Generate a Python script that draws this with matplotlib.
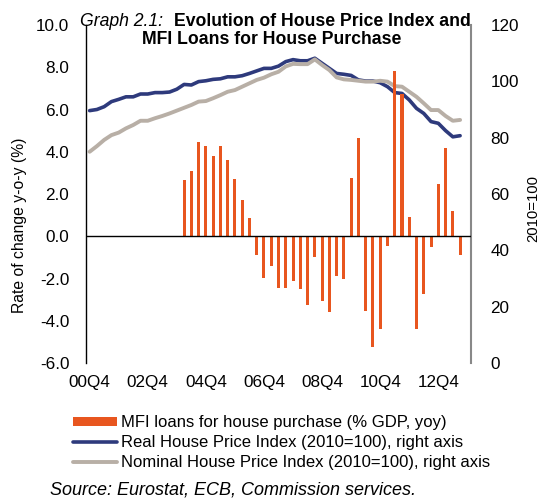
import matplotlib
matplotlib.use("Agg")
import matplotlib.pyplot as plt
import numpy as np

plt.rcParams['font.family'] = ['Liberation Sans', 'DejaVu Sans']

# quarters 00Q4 .. 13Q4 (last slot empty)
quarters = ['%02dQ%d' % ((2000 + (i + 3) // 4) % 100, (i + 3) % 4 + 1) for i in range(53)]
tick_pos = [0, 8, 16, 24, 32, 40, 48]

# MFI loans for house purchase (% GDP, yoy), 00Q4 .. 13Q3
loans = [0, 0, 0, 0, 0, 0, 0, 0, 0, 0, 0, 0, 0,
         2.64, 3.08, 4.45, 4.25, 3.82, 4.25, 3.63, 2.70, 1.71, 0.88,
         -0.88, -1.97, -1.43, -2.45, -2.45, -2.14, -2.52, -3.27,
         -0.96, -3.05, -3.60, -1.87, -2.00, 2.77, 4.67,
         -3.55, -5.25, -4.39, -0.47, 7.83, 6.73, 0.91,
         -4.39, -2.75, -0.50, 2.48, 4.18, 1.18, -0.91]

# Real House Price Index (2010=100)
real_hpi = [89.6, 90.0, 91.0, 92.8, 93.6, 94.5, 94.5, 95.5, 95.5, 96.0,
            96.0, 96.2, 97.2, 98.9, 98.7, 99.9, 100.2, 100.7, 100.9, 101.6,
            101.6, 102.0, 102.8, 103.7, 104.6, 104.6, 105.4, 107.0, 107.7, 107.3,
            107.3, 108.2, 106.4, 104.6, 102.8, 102.5, 102.1, 100.5, 100.1, 100.1,
            99.5, 98.1, 96.0, 95.7, 93.4, 90.4, 88.6, 85.7, 85.1, 82.5,
            80.3, 80.7]

# Nominal House Price Index (2010=100)
nominal_hpi = [75.0, 77.0, 79.2, 80.9, 81.8, 83.3, 84.5, 86.0, 86.0, 86.9,
               87.7, 88.6, 89.6, 90.6, 91.6, 92.8, 93.0, 94.0, 95.1, 96.3,
               96.9, 98.1, 99.3, 100.5, 101.3, 102.5, 103.4, 105.3, 106.2, 106.1,
               106.1, 107.8, 105.8, 104.0, 101.4, 100.7, 100.5, 100.2, 99.9, 99.9,
               100.2, 99.9, 98.3, 98.1, 96.3, 94.5, 92.2, 89.8, 89.8, 87.7,
               86.0, 86.3]

orange = '#E8561F'
navy = '#2E3A7C'
grey = '#B8AFA6'

W, H = 543, 498
fig = plt.figure(figsize=(W / 100, H / 100), dpi=100)
ax = fig.add_axes([86 / W, 1 - 363 / H, (471 - 86) / W, (363 - 25) / H])
ax2 = ax.twinx()

x = np.arange(len(loans))
xl = np.arange(len(real_hpi))
bars = ax.bar(x, loans, width=0.42, color=orange, zorder=3)
l1, = ax2.plot(xl, real_hpi, color=navy, lw=2.6, solid_capstyle='round')
l2, = ax2.plot(xl, nominal_hpi, color=grey, lw=2.8, solid_capstyle='round')
ax.axhline(0, color='black', lw=1.0, zorder=4)

# bars drawn above the lines
ax.set_zorder(ax2.get_zorder() + 1)
ax.patch.set_visible(False)

ax.set_xlim(-0.5, 52.5)
ax.set_ylim(-6, 10)
ax.set_yticks(np.arange(-6, 10.1, 2))
ax.set_yticklabels(['%.1f' % v for v in np.arange(-6, 10.1, 2)])
ax2.set_ylim(0, 120)
ax2.set_yticks(range(0, 121, 20))
ax.set_xticks(tick_pos)
ax.set_xticklabels([quarters[i] for i in tick_pos])

for a in (ax, ax2):
    a.spines['top'].set_visible(False)
    a.spines['bottom'].set_visible(False)
ax.spines['right'].set_visible(False)
ax2.spines['left'].set_visible(False)
ax.spines['left'].set_linewidth(1.0)
ax2.spines['right'].set_color('#888888')
ax2.spines['right'].set_linewidth(1.5)

ax.tick_params(axis='y', length=0, pad=12, labelsize=12.3)
ax.tick_params(axis='x', length=0, pad=9, labelsize=12.3)
ax2.tick_params(axis='y', length=0, pad=14, labelsize=12.3)

fig.text(20 / W, 1 - 225 / H, 'Rate of change y-o-y (%)', rotation=90,
         ha='center', va='center', fontsize=11.3)
fig.text(533 / W, 1 - 208 / H, '2010=100', rotation=90,
         ha='center', va='center', fontsize=10.7)

fig.text(80 / W, 1 - 22 / H, 'Graph 2.1:', style='italic',
         ha='left', va='center', fontsize=12.7)
fig.text(174 / W, 1 - 22 / H, 'Evolution of House Price Index and',
         weight='bold', ha='left', va='center', fontsize=12.7)
fig.text(272 / W, 1 - 40 / H, 'MFI Loans for House Purchase',
         weight='bold', ha='center', va='center', fontsize=12.7)

fig.legend([bars, l1, l2],
           ['MFI loans for house purchase (% GDP, yoy)',
            'Real House Price Index (2010=100), right axis',
            'Nominal House Price Index (2010=100), right axis'],
           loc='upper left', bbox_to_anchor=(73 / W, 1 - 415 / H),
           frameon=False, fontsize=12, handlelength=2.65,
           handleheight=0.45, handletextpad=0.25, labelspacing=0.3,
           borderaxespad=0, borderpad=0)

fig.text(50 / W, 1 - 490 / H, 'Source: Eurostat, ECB, Commission services.',
         style='italic', ha='left', va='center', fontsize=13)

fig.savefig('out.png', dpi=100)
